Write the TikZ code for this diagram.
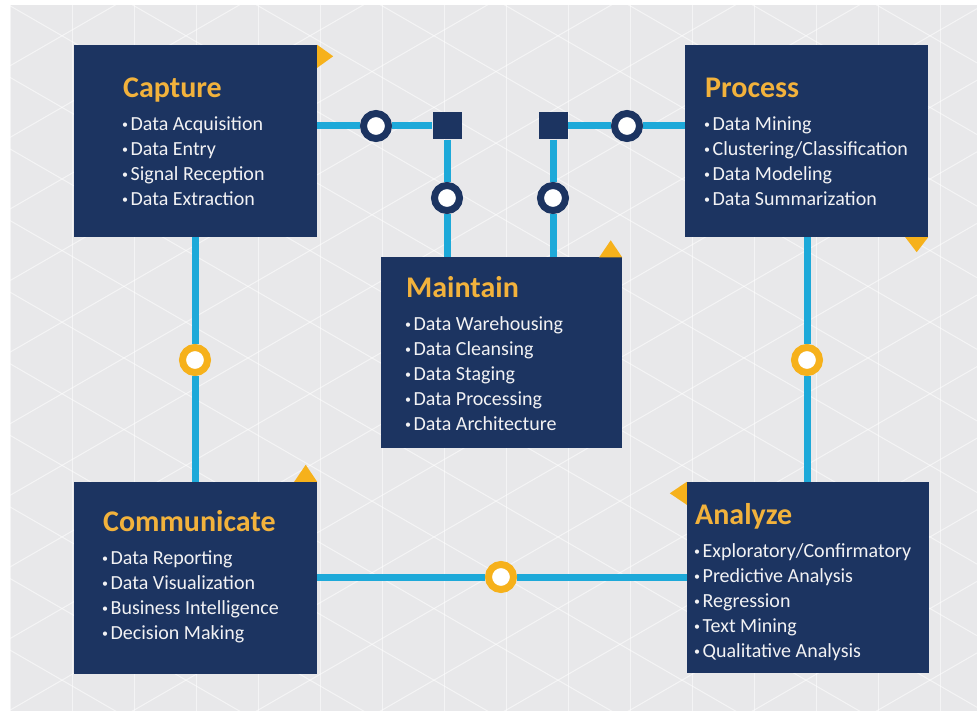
\documentclass[tikz,border=0pt]{standalone}
\usepackage{fontspec}
\setmainfont{Carlito}
\definecolor{navy}{HTML}{1C3461}
\definecolor{wirecyan}{HTML}{1DA9D9}
\definecolor{gold}{HTML}{F2B23C}
\definecolor{sun}{HTML}{F6B11B}
\definecolor{paper}{HTML}{F2F2F4}
\definecolor{backfill}{HTML}{E8E8EA}
\pgfdeclarelayer{backdrop}
\pgfdeclarelayer{wires}
\pgfsetlayers{backdrop,wires,main}
\newcommand\bulletitem[1]{\hspace{-1pt}{\fontsize{12}{12}\selectfont\raisebox{2pt}{•}}\hspace{2.5pt}#1}
\newcommand\headline[1]{{\fontsize{30}{25}\selectfont\bfseries\color{gold}#1}}
\begin{document}
\begin{tikzpicture}[x=1pt,y=-1pt,
  box/.style={fill=navy, draw=none, inner sep=0, minimum width=243, minimum height=192},
  blurb/.style={anchor=north west, inner sep=0, align=left, text=paper,
    font=\fontsize{20}{25}\selectfont},
  wire/.style={draw=wirecyan, line width=7},
  navyring/.style={circle, draw=navy, line width=7, fill=white, minimum size=25, inner sep=0},
  sunring/.style={circle, draw=sun, line width=7, fill=white, minimum size=25, inner sep=0},
  junction/.style={fill=navy, minimum width=29, minimum height=27, inner sep=0},
  flag/.style={fill=sun},
  mesh/.style={draw=white, line width=1, opacity=0.55}]

% page and faint triangular mesh
\begin{pgfonlayer}{backdrop}
  \fill[white] (0,0) rectangle (977,711);
  \fill[backfill] (10,5) rectangle (977,711);
  \begin{scope}
    \clip (10,5) rectangle (977,711);
    \foreach \k in {-12,...,22} {
      \draw[mesh] ({\k*62+10},0) -- ({\k*62+10},711);
      \draw[mesh] (-100,{(\k*62-50)/0.866}) -- (1100,{(\k*62+550)/0.866});
      \draw[mesh] (-100,{(\k*62+50)/0.866}) -- (1100,{(\k*62-550)/0.866});
    }
  \end{scope}
\end{pgfonlayer}

% stage boxes
\node[box] (capture) at (195.5,141) {};
\node[box] (process) at (806.5,141) {};
\node[box, minimum width=241, minimum height=190] (maintain) at (501.5,352.5) {};
\node[box] (communicate) at (195.5,578) {};
\node[box, minimum width=242, minimum height=191] (analyze) at (808,577.5) {};

% yellow corner flags
\fill[flag] (capture.north east) -- ++(0,23) -- ++(16,-11.5) -- cycle;
\fill[flag] (process.south east) -- ++(-23,0) -- ++(11.5,15) -- cycle;
\fill[flag] (maintain.north east) -- ++(-23,0) -- ++(11.5,-17) -- cycle;
\fill[flag] (communicate.north east) -- ++(-23,0) -- ++(11.5,-17) -- cycle;
\fill[flag] (analyze.north west) -- ++(0,23) -- ++(-17,-11.5) -- cycle;

% junctions and rings
\node[junction] (hubL) at (447,126) {};
\node[junction] (hubR) at (553,126) {};
\node[navyring] (ringA) at (376,126) {};
\node[navyring] (ringB) at (447,198) {};
\node[navyring] (ringC) at (627,126) {};
\node[navyring] (ringD) at (553,198) {};
\node[sunring] (ringE) at (195,360) {};
\node[sunring] (ringF) at (807,360) {};
\node[sunring] (ringG) at (501,577) {};

% connectors
\begin{pgfonlayer}{wires}
  \draw[wire] (capture.east |- hubL) -- (ringA) -- (hubL);
  \draw[wire] (hubL) -- (ringB) -- (hubL |- maintain.north);
  \draw[wire] (hubR) -- (ringC) -- (process.west |- hubR);
  \draw[wire] (hubR) -- (ringD) -- (hubR |- maintain.north);
  \draw[wire] (capture.south -| ringE) -- (ringE) -- (communicate.north -| ringE);
  \draw[wire] (process.south -| ringF) -- (ringF) -- (analyze.north -| ringF);
  \draw[wire] (communicate.east |- ringG) -- (ringG) -- (analyze.west |- ringG);
\end{pgfonlayer}

% box texts
\node[blurb] (captureText) at (123,78) {\headline{Capture}\\[8pt]
  \bulletitem{Data Acquisition}\\ \bulletitem{Data Entry}\\
  \bulletitem{Signal Reception}\\ \bulletitem{Data Extraction}};
\node[blurb] (processText) at (705,78) {\headline{Process}\\[8pt]
  \bulletitem{Data Mining}\\ \bulletitem{Clustering/Classification}\\
  \bulletitem{Data Modeling}\\ \bulletitem{Data Summarization}};
\node[blurb] (maintainText) at (406,276) {\headline{Maintain}\\[8pt]
  \bulletitem{Data Warehousing}\\ \bulletitem{Data Cleansing}\\
  \bulletitem{Data Staging}\\ \bulletitem{Data Processing}\\
  \bulletitem{Data Architecture}};
\node[blurb] (communicateText) at (103,510) {\headline{Communicate}\\[8pt]
  \bulletitem{Data Reporting}\\ \bulletitem{Data Visualization}\\
  \bulletitem{Business Intelligence}\\ \bulletitem{Decision Making}};
\node[blurb] (analyzeText) at (695,503) {\headline{Analyze}\\[8pt]
  \bulletitem{Exploratory/Confirmatory}\\ \bulletitem{Predictive Analysis}\\
  \bulletitem{Regression}\\ \bulletitem{Text Mining}\\
  \bulletitem{Qualitative Analysis}};
\end{tikzpicture}
\end{document}
